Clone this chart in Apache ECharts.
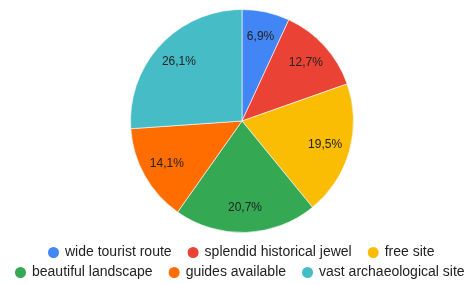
<!DOCTYPE html>
<html>
<head>
<meta charset="utf-8">
<script src="https://cdn.jsdelivr.net/npm/echarts@6/dist/echarts.min.js"></script>
<style>
  html, body { margin: 0; padding: 0; background: #fff; }
  #chart { width: 471px; height: 284px; }
</style>
</head>
<body>
<div id="chart"></div>
<script>
const categories = ['wide tourist route', 'splendid historical jewel', 'free site', 'beautiful landscape', 'guides available', 'vast archaeological site'];
const values = [6.9, 12.7, 19.5, 20.7, 14.1, 26.1];
const colors = ['#4285f4', '#ea4335', '#fbbc04', '#34a853', '#ff6d01', '#46bdc6'];

const myChart = echarts.init(document.getElementById('chart'));

const data = categories.map((name, i) => ({name: name, value: values[i], itemStyle: {color: colors[i]}}));
const font = 'Arial, "Liberation Sans", sans-serif';

function legendRow(names, left, top) {
    return {
        data: names,
        left: left,
        top: top,
        width: 600,
        padding: 0,
        orient: 'horizontal',
        icon: 'circle',
        itemWidth: 13,
        itemHeight: 13,
        itemGap: 14,
        selectedMode: false,
        textStyle: {fontFamily: font, fontSize: 14, color: '#222'}
    };
}

const option = {
    animation: false,
    legend: [
        legendRow(categories.slice(0, 3), 46, 245),
        legendRow(categories.slice(3), 13, 265)
    ],
    series: [
        {
            type: 'pie',
            center: [242, 121],
            radius: [0, 111.5],
            startAngle: 90,
            clockwise: true,
            silent: true,
            label: {show: false},
            labelLine: {show: false},
            itemStyle: {borderColor: '#fff', borderWidth: 0.6},
            data: data
        },
        {
            // label-only ring so that labels sit at ~83px from centre
            type: 'pie',
            center: [242, 121],
            radius: [55, 111.5],
            startAngle: 90,
            clockwise: true,
            silent: true,
            itemStyle: {color: 'rgba(0,0,0,0)', borderWidth: 0},
            label: {
                show: true,
                position: 'inside',
                fontFamily: font,
                fontSize: 12,
                color: '#222',
                formatter: p => p.value.toFixed(1).replace('.', ',') + '%'
            },
            labelLine: {show: false},
            data: categories.map((name, i) => ({name: name, value: values[i]}))
        }
    ]
};

option && myChart.setOption(option);
</script>
</body>
</html>
